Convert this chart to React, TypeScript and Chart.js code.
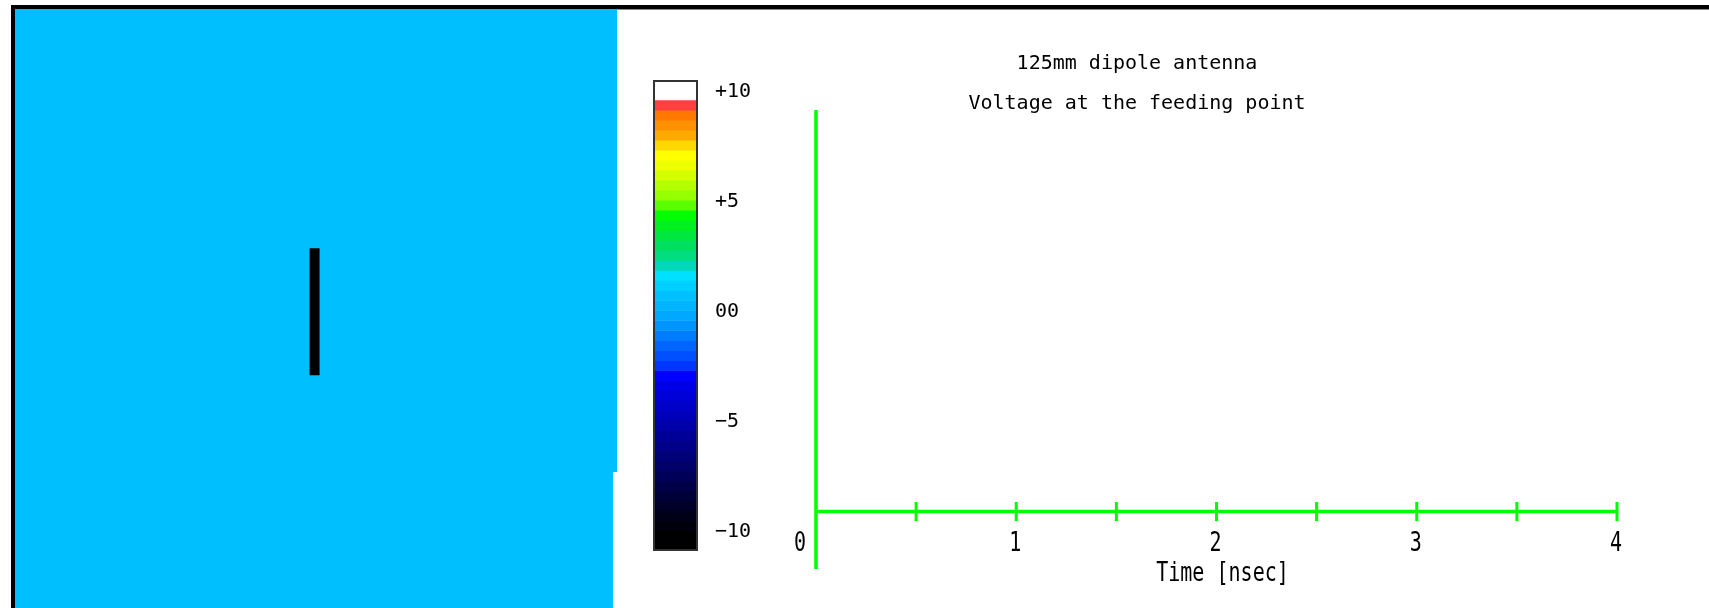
import React, { useEffect, useRef } from 'react';
import { Chart, registerables } from 'chart.js';

Chart.register(...registerables);

// ---- Plot (time signal) ----
const TITLE_LINES = ['125mm dipole antenna', 'Voltage at the feeding point'];
const X_AXIS_TITLE = 'Time [nsec]';
const TIME_TICKS = [0, 0.5, 1, 1.5, 2, 2.5, 3, 3.5, 4];
const TIME_TICK_LABELS = ['0', '', '1', '', '2', '', '3', '', '4'];
const TIME_MIN = 0;
const TIME_MAX = 4;
const VOLT_MIN = -0.143;
const VOLT_MAX = 1;
// the recorded voltage so far (frame at t = 0)
const TIME_NS: number[] = [0];
const VOLTAGE: number[] = [0];

// ---- Colour bar ----
const CB_MIN = -10.86;
const CB_MAX = 10.55;
const CB_TICKS = [-10, -5, 0, 5, 10];
const CB_TICK_LABELS = ['\u221210', '\u22125', '00', '+5', '+10'];
// band colours, from top (+) to bottom (-)
const CB_COLORS = [
  '#ffffff', '#ffffff', '#ff4040', '#ff7800', '#ff9000', '#ffaa00', '#ffd800', '#ffff00',
  '#eeff00', '#d4ff00', '#b4ff00', '#96ff00', '#5cff00', '#00ff00', '#00f020', '#00e840',
  '#00e060', '#00de80', '#00d8b8', '#00e0ff', '#00d0ff', '#00c0ff', '#00b4ff', '#00a8ff',
  '#0094ff', '#007cff', '#0064ff', '#0050ff', '#0034ff', '#0000ff', '#0000e8', '#0000d8',
  '#0000c8', '#0000b8', '#0000a8', '#000098', '#000088', '#000078', '#000068', '#000058',
  '#000048', '#000038', '#000028', '#000018', '#00000c', '#000000', '#000000',
];

// ---- Field view (mm) ----
const FIELD_W_MM = 592;
const FIELD_H_MM = 590;
const FIELD_COLOR = '#00bfff';
const DIPOLE_X_MM = [294.6, 294.6];
const DIPOLE_Y_MM = [229.3, 354.3];

const AXIS_GREEN = '#00ff00';
const MONO = "'DejaVu Sans Mono', monospace";

function drawNarrow(ctx: CanvasRenderingContext2D, text: string, x: number, y: number) {
  ctx.save();
  ctx.translate(x, y);
  ctx.scale(0.77, 1);
  ctx.fillText(text, 0, 0);
  ctx.restore();
}

const fieldBg = {
  id: 'fieldBg',
  beforeDraw(chart: any) {
    const { ctx, chartArea: a } = chart;
    ctx.save();
    ctx.fillStyle = FIELD_COLOR;
    ctx.fillRect(a.left, a.top, a.right - a.left, a.bottom - a.top);
    ctx.restore();
  },
};

const cbFrame = {
  id: 'cbFrame',
  afterDatasetsDraw(chart: any) {
    const { ctx, chartArea: a } = chart;
    ctx.save();
    ctx.strokeStyle = '#333333';
    ctx.lineWidth = 2;
    ctx.strokeRect(a.left + 1, a.top + 1, a.right - a.left - 2, a.bottom - a.top - 2);
    ctx.restore();
  },
};

const greenAxes = {
  id: 'greenAxes',
  afterDatasetsDraw(chart: any) {
    const { ctx } = chart;
    const xs = chart.scales.x;
    const ys = chart.scales.y;
    const x0 = xs.getPixelForValue(TIME_MIN);
    const x1 = xs.getPixelForValue(TIME_MAX);
    const y0 = ys.getPixelForValue(0);
    ctx.save();
    ctx.strokeStyle = AXIS_GREEN;
    ctx.lineCap = 'butt';
    ctx.lineWidth = 3.5;
    ctx.beginPath();
    ctx.moveTo(x0, ys.getPixelForValue(VOLT_MAX));
    ctx.lineTo(x0, ys.getPixelForValue(VOLT_MIN));
    ctx.moveTo(x0, y0);
    ctx.lineTo(x1, y0);
    ctx.stroke();
    ctx.lineWidth = 3;
    ctx.beginPath();
    TIME_TICKS.forEach((t) => {
      if (t === TIME_MIN) return;
      const px = xs.getPixelForValue(t);
      ctx.moveTo(px, y0 - 9.5);
      ctx.lineTo(px, y0 + 9.5);
    });
    ctx.stroke();

    ctx.fillStyle = '#000';
    ctx.font = `26px ${MONO}`;
    ctx.textAlign = 'center';
    ctx.textBaseline = 'middle';
    TIME_TICKS.forEach((t, i) => {
      const lab = TIME_TICK_LABELS[i];
      if (!lab) return;
      const px = t === TIME_MIN ? x0 - 16 : xs.getPixelForValue(t) - 1;
      drawNarrow(ctx, lab, px, y0 + 33);
    });
    drawNarrow(ctx, X_AXIS_TITLE, (xs.left + xs.right) / 2 + 6, y0 + 62.5);
    ctx.restore();
  },
};

export default function App() {
  const fieldRef = useRef<HTMLCanvasElement>(null);
  const cbRef = useRef<HTMLCanvasElement>(null);
  const mainRef = useRef<HTMLCanvasElement>(null);

  useEffect(() => {
    const charts: Chart[] = [];

    charts.push(
      new Chart(fieldRef.current as HTMLCanvasElement, {
        type: 'scatter',
        data: {
          datasets: [
            {
              data: DIPOLE_X_MM.map((x, i) => ({ x, y: DIPOLE_Y_MM[i] })),
              showLine: true,
              borderColor: '#000000',
              borderWidth: 10,
              borderCapStyle: 'butt',
              pointRadius: 0,
            } as any,
          ],
        },
        options: {
          animation: false,
          responsive: false,
          layout: { padding: 0 },
          scales: {
            x: { type: 'linear', min: 0, max: FIELD_W_MM, display: false },
            y: { type: 'linear', min: 0, max: FIELD_H_MM, display: false },
          },
          plugins: { legend: { display: false }, tooltip: { enabled: false } },
        },
        plugins: [fieldBg],
      })
    );

    const step = (CB_MAX - CB_MIN) / CB_COLORS.length;
    charts.push(
      new Chart(cbRef.current as HTMLCanvasElement, {
        type: 'bar',
        data: {
          labels: ['V'],
          datasets: CB_COLORS.map((c, i) => ({
            data: [[CB_MAX - (i + 1) * step, CB_MAX - i * step]],
            backgroundColor: c,
            borderWidth: 0,
            grouped: false,
            barPercentage: 1,
            categoryPercentage: 1,
          })) as any,
        },
        options: {
          animation: false,
          responsive: false,
          layout: { padding: { left: 13, top: 20, bottom: 19, right: 0 } },
          plugins: { legend: { display: false }, tooltip: { enabled: false } },
          scales: {
            x: { display: false },
            y: {
              position: 'right',
              min: CB_MIN,
              max: CB_MAX,
              grid: { display: false, drawTicks: false },
              border: { display: false },
              afterBuildTicks: (s: any) => {
                s.ticks = CB_TICKS.map((v) => ({ value: v }));
              },
              afterFit: (s: any) => {
                s.width = 60;
                s.paddingTop = 0;
                s.paddingBottom = 0;
              },
              ticks: {
                padding: 17,
                autoSkip: false,
                color: '#000',
                font: { family: MONO, size: 20 },
                callback: (_v: any, i: number) => CB_TICK_LABELS[i],
              },
            } as any,
          },
        },
        plugins: [cbFrame],
      })
    );

    charts.push(
      new Chart(mainRef.current as HTMLCanvasElement, {
        type: 'scatter',
        data: {
          datasets: [
            {
              data: TIME_NS.map((t, i) => ({ x: t, y: VOLTAGE[i] })),
              showLine: true,
              borderColor: AXIS_GREEN,
              borderWidth: 3,
              pointRadius: 0,
            },
          ],
        },
        options: {
          animation: false,
          responsive: false,
          layout: { padding: { left: 0, right: 0, top: 0, bottom: 39 } },
          scales: {
            x: { type: 'linear', min: TIME_MIN, max: TIME_MAX, display: false },
            y: {
              type: 'linear',
              position: 'left',
              min: VOLT_MIN,
              max: VOLT_MAX,
              ticks: { display: false },
              grid: { display: false, drawTicks: false },
              border: { display: false },
              afterFit: (s: any) => {
                s.width = 251;
                s.paddingTop = 0;
                s.paddingBottom = 0;
              },
            } as any,
            yPad: {
              type: 'linear',
              position: 'right',
              ticks: { display: false },
              grid: { display: false, drawTicks: false },
              border: { display: false },
              afterFit: (s: any) => {
                s.width = 92;
                s.paddingTop = 0;
                s.paddingBottom = 0;
              },
            } as any,
          },
          plugins: {
            legend: { display: false },
            tooltip: { enabled: false },
            title: {
              display: true,
              text: TITLE_LINES,
              color: '#000',
              font: { family: MONO, size: 20, weight: 'normal', lineHeight: 2.0 },
              padding: { top: 44, bottom: -14 },
            },
          },
        },
        plugins: [greenAxes],
      })
    );

    return () => charts.forEach((c) => c.destroy());
  }, []);

  return (
    <div
      style={{
        position: 'fixed',
        left: 0,
        top: 0,
        width: 1709,
        height: 608,
        background: '#ffffff',
        overflow: 'hidden',
      }}
    >
      <div
        style={{
          position: 'absolute',
          left: 11,
          top: 5,
          width: 1698,
          height: 603,
          boxSizing: 'border-box',
          borderTop: '4px solid #000',
          borderLeft: '4px solid #000',
        }}
      />
      <div style={{ position: 'absolute', left: 617, top: 9, right: 0, height: 1, background: '#8a8a8a' }} />
      <canvas
        ref={fieldRef}
        width={602}
        height={599}
        style={{ position: 'absolute', left: 15, top: 9, display: 'block' }}
      />
      <div style={{ position: 'absolute', left: 613, top: 472, width: 4, height: 136, background: '#ffffff' }} />
      <canvas
        ref={mainRef}
        width={1144}
        height={608}
        style={{ position: 'absolute', left: 565, top: 0, display: 'block' }}
      />
      <canvas
        ref={cbRef}
        width={118}
        height={510}
        style={{ position: 'absolute', left: 640, top: 60, display: 'block' }}
      />
    </div>
  );
}
